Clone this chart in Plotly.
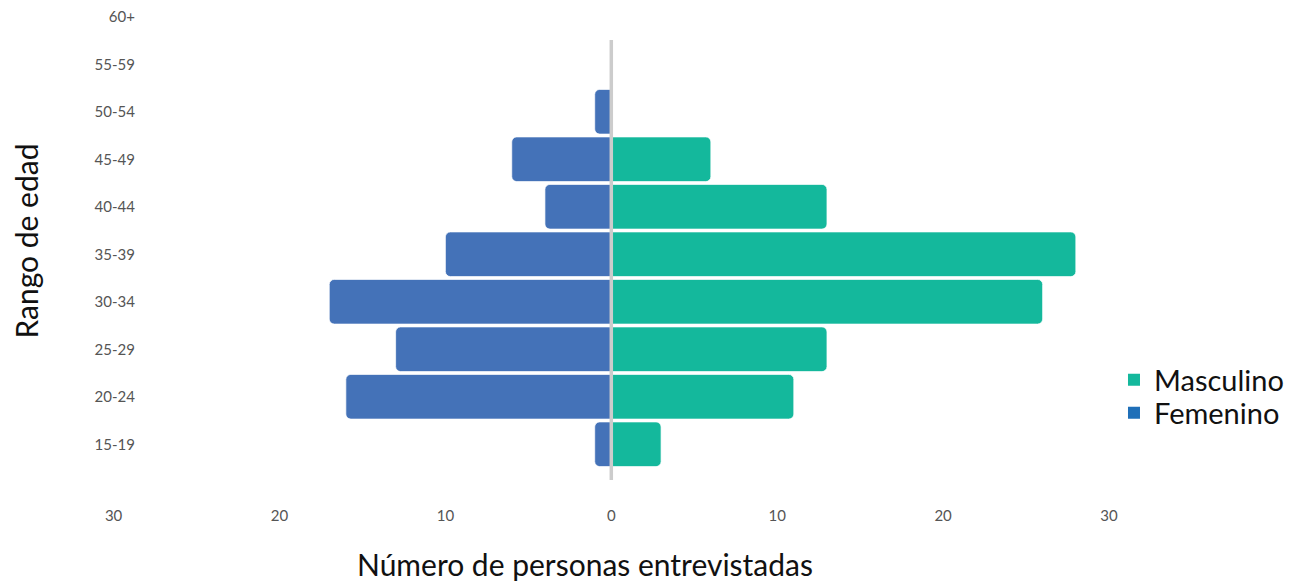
import plotly.graph_objects as go

age_groups = ["15-19", "20-24", "25-29", "30-34", "35-39", "40-44", "45-49", "50-54", "55-59", "60+"]
masculino = [3, 11, 13, 26, 28, 13, 6, 0, 0, 0]
femenino = [1, 16, 13, 17, 10, 4, 6, 1, 0, 0]
x_tick_values = [-30, -20, -10, 0, 10, 20, 30]
x_tick_labels = ["30", "20", "10", "0", "10", "20", "30"]

COL_M = "#14B89C"
COL_F = "#4472B8"
COL_F_LEG = "#1F6FB8"
FONT = "Lato, 'Open Sans', sans-serif"

fig = go.Figure()
fig.add_trace(go.Bar(
    y=age_groups, x=masculino, orientation="h", name="Masculino",
    legendgroup="m", showlegend=False,
    marker=dict(color=COL_M, cornerradius=5, line=dict(color="rgba(255,255,255,0.7)", width=1)),
    hovertemplate="%{y}: %{x}<extra>Masculino</extra>",
))
fig.add_trace(go.Bar(
    y=age_groups, x=[-v for v in femenino], orientation="h", name="Femenino",
    legendgroup="f", showlegend=False, customdata=femenino,
    marker=dict(color=COL_F, cornerradius=5, line=dict(color="rgba(255,255,255,0.7)", width=1)),
    hovertemplate="%{y}: %{customdata}<extra>Femenino</extra>",
))
# legend entries with large square swatches
fig.add_trace(go.Scatter(x=[None], y=[None], mode="markers", name="Masculino",
                         legendgroup="m", legend="legend",
                         marker=dict(symbol="square", size=19, color=COL_M)))
fig.add_trace(go.Scatter(x=[None], y=[None], mode="markers", name="Femenino",
                         legendgroup="f", legend="legend2",
                         marker=dict(symbol="square", size=19, color=COL_F_LEG)))

fig.add_shape(type="line", xref="x", yref="paper", x0=0, x1=0, y0=-0.0264, y1=0.943,
              line=dict(color="#cccccc", width=3.5), layer="above")

leg_common = dict(xanchor="left", yanchor="middle", bgcolor="rgba(0,0,0,0)",
                  font=dict(size=29, color="#111111", family=FONT),
                  itemsizing="constant", tracegroupgap=0, itemwidth=30)

fig.update_layout(
    width=1292, height=574,
    margin=dict(l=52, r=190, t=6, b=114, autoexpand=False),
    paper_bgcolor="white", plot_bgcolor="white",
    barmode="overlay", bargap=0.06,
    font=dict(family=FONT, color="#555555"),
    showlegend=True,
    legend=dict(x=1.0038, y=0.1938, **leg_common),
    legend2=dict(x=1.0038, y=0.1211, **leg_common),
    xaxis=dict(range=[-33.23, 30.06], tickvals=x_tick_values, ticktext=x_tick_labels,
               showgrid=False, zeroline=False, showline=False, ticks="",
               tickfont=dict(size=15, color="#555555"), ticklabelstandoff=37,
               title=dict(text="Número de personas entrevistadas",
                          font=dict(size=30, color="#111111"), standoff=32),
               fixedrange=True),
    yaxis=dict(range=[-0.5, 9.058], anchor="free", position=0.0714,
               showgrid=False, zeroline=False, showline=False, ticks="",
               tickfont=dict(size=15, color="#555555"),
               title=dict(text="Rango de edad", font=dict(size=30, color="#111111"), standoff=60),
               fixedrange=True),
)

fig.write_html("out.html")
